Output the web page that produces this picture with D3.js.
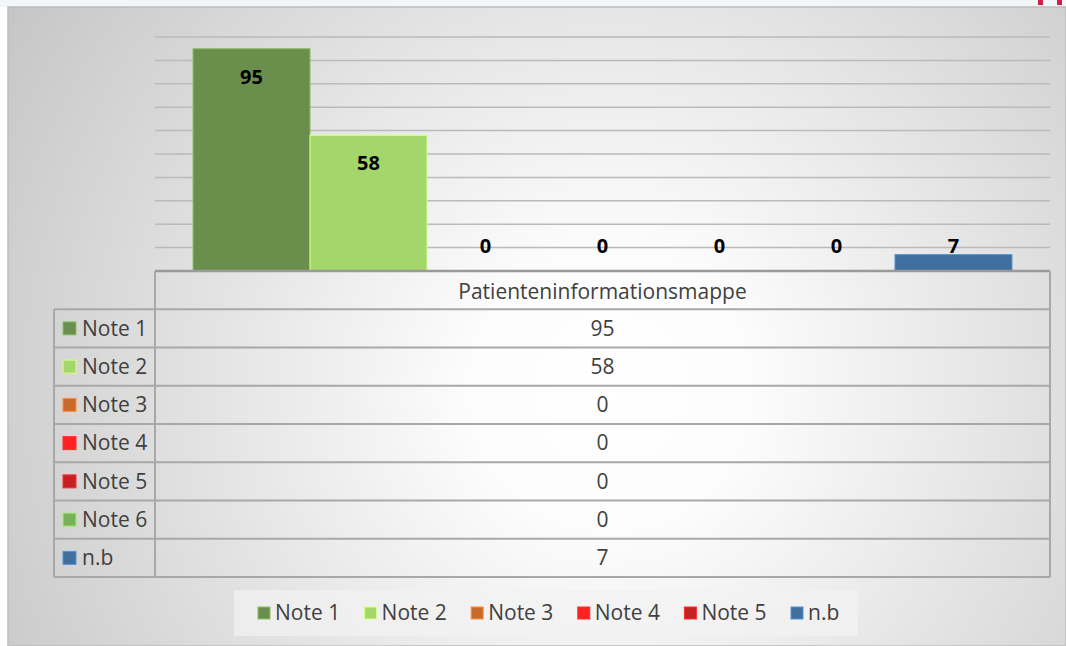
<!DOCTYPE html>
<html>
<head>
<meta charset="utf-8">
<script src="https://cdn.jsdelivr.net/npm/d3@7"></script>
<style>
  html, body { margin: 0; padding: 0; background: #fff; }
  svg { display: block; font-family: "Open Sans", sans-serif; }
</style>
</head>
<body>
<script>
const category = "Patienteninformationsmappe";
const series = ["Note 1", "Note 2", "Note 3", "Note 4", "Note 5", "Note 6", "n.b"];
const values = [95, 58, 0, 0, 0, 0, 7];
const colors = ["#6a8f4d", "#a3d76a", "#c96a2c", "#ff2222", "#c42222", "#79b159", "#3f6f9f"];
const legendSeries = ["Note 1", "Note 2", "Note 3", "Note 4", "Note 5", "n.b"];
const yTicks = [0, 10, 20, 30, 40, 50, 60, 70, 80, 90, 100];

const width = 1066;
const height = 646;
const plotLeft = 155, plotRight = 1050;
const baseY = 271, topY = 37;
const rowH = 38.25;
const colLeft = 54;
const fontSize = 21;

const svg = d3.select("body").append("svg")
  .attr("width", width)
  .attr("height", height);

// background
const defs = svg.append("defs");
const grad = defs.append("radialGradient")
  .attr("id", "bg")
  .attr("gradientUnits", "userSpaceOnUse")
  .attr("cx", 610).attr("cy", 390).attr("r", 710);
grad.append("stop").attr("offset", 0).attr("stop-color", "#ffffff");
grad.append("stop").attr("offset", 0.2).attr("stop-color", "#fcfcfc");
grad.append("stop").attr("offset", 1).attr("stop-color", "#c6c6c6");

svg.append("rect").attr("width", width).attr("height", 7).attr("fill", "#f1f6f9");
svg.append("rect").attr("x", 1038).attr("y", 0).attr("width", 5).attr("height", 5).attr("fill", "#d0204a");
svg.append("rect").attr("x", 1057).attr("y", 0).attr("width", 5).attr("height", 5).attr("fill", "#d0204a");
svg.append("rect")
  .attr("x", 8).attr("y", 7)
  .attr("width", width - 8).attr("height", height - 7)
  .attr("fill", "url(#bg)")
  .attr("stroke", "#bdbdbd").attr("stroke-width", 1.5);

const y = d3.scaleLinear().domain([0, 100]).range([baseY, topY]);
const xCat = d3.scaleBand().domain([category]).range([plotLeft, plotRight]);
const x = d3.scaleBand().domain(series).range([0, xCat.bandwidth()]).paddingOuter(0.325);

// gridlines
svg.append("g")
  .selectAll("line")
  .data(yTicks.slice(1))
  .join("line")
  .attr("x1", plotLeft).attr("x2", plotRight)
  .attr("y1", d => y(d)).attr("y2", d => y(d))
  .attr("stroke", "#bababa").attr("stroke-width", 1.5);

// bars
const g = svg.append("g").attr("transform", `translate(${xCat(category)},0)`);
g.selectAll("rect")
  .data(values)
  .join("rect")
  .attr("x", (d, i) => x(series[i]))
  .attr("y", d => y(d))
  .attr("width", x.bandwidth())
  .attr("height", d => baseY - y(d))
  .attr("fill", (d, i) => colors[i])
  .attr("stroke", (d, i) => d3.color(colors[i]).brighter(0.8))
  .attr("stroke-width", 1);

g.selectAll("text")
  .data(values)
  .join("text")
  .attr("x", (d, i) => x(series[i]) + x.bandwidth() / 2)
  .attr("y", d => Math.min(y(d) + 28, baseY - 25))
  .attr("dy", "0.35em")
  .attr("text-anchor", "middle")
  .attr("font-size", 20)
  .attr("font-weight", "bold")
  .attr("fill", "#000")
  .text(d => d);

// data table
const table = svg.append("g");
const lineColor = "#a8a8a8";
const tableBottom = baseY + rowH * (series.length + 1);

table.append("line")
  .attr("x1", plotLeft).attr("x2", plotRight)
  .attr("y1", baseY).attr("y2", baseY)
  .attr("stroke", "#9a9a9a").attr("stroke-width", 2.5);

series.forEach((s, i) => {
  const ry = baseY + rowH * (i + 1);
  table.append("line")
    .attr("x1", colLeft).attr("x2", plotRight)
    .attr("y1", ry).attr("y2", ry)
    .attr("stroke", lineColor).attr("stroke-width", 2);
});
table.append("line")
  .attr("x1", colLeft).attr("x2", plotRight)
  .attr("y1", tableBottom).attr("y2", tableBottom)
  .attr("stroke", lineColor).attr("stroke-width", 2);

[[colLeft, baseY + rowH], [plotLeft, baseY], [plotRight, baseY]].forEach(([lx, y0]) => {
  table.append("line")
    .attr("x1", lx).attr("x2", lx)
    .attr("y1", y0).attr("y2", tableBottom)
    .attr("stroke", lineColor).attr("stroke-width", 2);
});

table.append("text")
  .attr("x", xCat(category) + xCat.bandwidth() / 2)
  .attr("y", baseY + rowH / 2 + 2)
  .attr("dy", "0.35em")
  .attr("text-anchor", "middle")
  .attr("font-size", fontSize)
  .attr("fill", "#404040")
  .text(category);

series.forEach((s, i) => {
  const cy = baseY + rowH * (i + 1.5);
  table.append("rect")
    .attr("x", 63).attr("y", cy - 6.5)
    .attr("width", 13).attr("height", 13)
    .attr("fill", colors[i])
    .attr("stroke", d3.color(colors[i]).brighter(0.8));
  table.append("text")
    .attr("x", 82).attr("y", cy)
    .attr("dy", "0.35em")
    .attr("font-size", fontSize)
    .attr("fill", "#404040")
    .text(s);
  table.append("text")
    .attr("x", xCat(category) + xCat.bandwidth() / 2)
    .attr("y", cy)
    .attr("dy", "0.35em")
    .attr("text-anchor", "middle")
    .attr("font-size", fontSize)
    .attr("fill", "#404040")
    .text(values[i]);
});

// legend
const legend = svg.append("g");
legend.append("rect")
  .attr("x", 234).attr("y", 590)
  .attr("width", 624).attr("height", 46)
  .attr("fill", "#f2f2f2").attr("fill-opacity", 0.7);

const legendX = d3.scalePoint().domain(legendSeries).range([258, 791]);
legendSeries.forEach(s => {
  const c = colors[series.indexOf(s)];
  const lx = legendX(s);
  legend.append("rect")
    .attr("x", lx).attr("y", 607)
    .attr("width", 12).attr("height", 12)
    .attr("fill", c)
    .attr("stroke", d3.color(c).brighter(0.8));
  legend.append("text")
    .attr("x", lx + 17).attr("y", 613)
    .attr("dy", "0.35em")
    .attr("font-size", fontSize)
    .attr("fill", "#404040")
    .text(s);
});
</script>
</body>
</html>
